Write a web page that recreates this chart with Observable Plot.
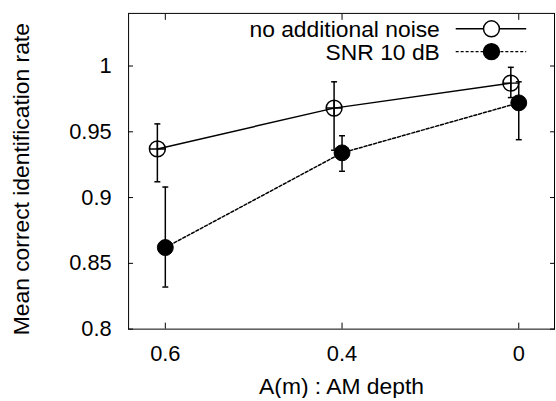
<!DOCTYPE html>
<html>
<head>
<meta charset="utf-8">
<script src="https://cdn.jsdelivr.net/npm/d3@7"></script>
<script src="https://cdn.jsdelivr.net/npm/@observablehq/plot@0.6"></script>
<style>
  html, body { margin: 0; padding: 0; background: #fff; overflow: hidden; }
  #chart { width: 556px; height: 401px; overflow: hidden; }
</style>
</head>
<body>
<div id="chart"></div>
<script>
// ---- data ----
const xCats = ["0.6", "0.4", "0"];
const seriesNames = ["no additional noise", "SNR 10 dB"];
const noNoiseMean = [0.937, 0.968, 0.987];
const noNoiseLow  = [0.912, 0.936, 0.976];
const noNoiseHigh = [0.956, 0.988, 0.999];
const snrMean = [0.862, 0.934, 0.972];
const snrLow  = [0.832, 0.920, 0.944];
const snrHigh = [0.908, 0.947, 0.988];
const yTicks = [0.8, 0.85, 0.9, 0.95, 1];
const yTickLabels = ["0.8", "0.85", "0.9", "0.95", "1"];
const xLabel = "A(m) : AM depth";
const yLabel = "Mean correct identification rate";

const noNoise = xCats.map((x, i) => ({x, y: noNoiseMean[i], lo: noNoiseLow[i], hi: noNoiseHigh[i]}));
const snr = xCats.map((x, i) => ({x, y: snrMean[i], lo: snrLow[i], hi: snrHigh[i]}));

// custom symbols
const circlePlus = {
  draw(ctx, size) {
    const r = Math.sqrt(size / Math.PI);
    ctx.moveTo(r, 0); ctx.arc(0, 0, r, 0, 2 * Math.PI);
    ctx.moveTo(-r, 0); ctx.lineTo(r, 0);
    ctx.moveTo(0, -r); ctx.lineTo(0, r);
  }
};
const hCap = {
  draw(ctx, size) {
    const r = Math.sqrt(size / Math.PI);
    ctx.moveTo(-r, 0); ctx.lineTo(r, 0);
  }
};

const FONT = "Liberation Sans, Arial, Helvetica, sans-serif";
const OFF = -8; // horizontal offset of the "no additional noise" series

function legend(index, scales, values, dims) {
  const g = d3.create("svg:g").attr("font-family", FONT).attr("font-size", 23);
  const right = dims.width - dims.marginRight;
  const rows = [
    {name: seriesNames[0], dash: null, fill: "none"},
    {name: seriesNames[1], dash: "3,2", fill: "black"}
  ];
  rows.forEach((r, i) => {
    const y = dims.marginTop + 16 + i * 23;
    g.append("text").attr("x", right - 115).attr("y", y).attr("dy", "0.35em")
      .attr("text-anchor", "end").attr("fill", "black").text(r.name);
    g.append("line").attr("x1", right - 99).attr("x2", right - 28).attr("y1", y).attr("y2", y)
      .attr("stroke", "black").attr("stroke-width", 1.5).attr("stroke-dasharray", r.dash);
    g.append("circle").attr("cx", right - 63).attr("cy", y).attr("r", 8)
      .attr("fill", r.fill === "none" ? "white" : "black").attr("stroke", "black").attr("stroke-width", 1.5);
  });
  return g.node();
}

const chart = Plot.plot({
  width: 560,
  height: 401,
  marginLeft: 129,
  marginRight: 2,
  marginTop: 13,
  marginBottom: 70,
  style: {fontFamily: FONT, fontSize: "22px", color: "black", background: "white"},
  x: {type: "point", domain: xCats, padding: 0.2, axis: null},
  y: {domain: [0.8, 1.04], axis: null},
  marks: [
    Plot.frame({stroke: "black", strokeWidth: 1}),
    Plot.axisY({ticks: yTicks, tickFormat: (d) => yTickLabels[yTicks.indexOf(d)], tickSize: -5, tickPadding: 22, fontSize: 22, label: null}),
    Plot.axisY({anchor: "right", ticks: yTicks, tickFormat: () => "", tickSize: -5, label: null}),
    Plot.axisX({tickSize: -6, tickPadding: 22, fontSize: 22, label: null}),
    Plot.axisX({anchor: "top", tickFormat: () => "", tickSize: -6, label: null}),
    // no additional noise
    Plot.ruleX(noNoise, {x: "x", y1: "lo", y2: "hi", dx: OFF, stroke: "black", strokeWidth: 1.5}),
    Plot.dot(noNoise, {x: "x", y: "lo", dx: OFF, symbol: hCap, r: 3, stroke: "black", strokeWidth: 1.5}),
    Plot.dot(noNoise, {x: "x", y: "hi", dx: OFF, symbol: hCap, r: 3, stroke: "black", strokeWidth: 1.5}),
    Plot.line(noNoise, {x: "x", y: "y", dx: OFF, stroke: "black", strokeWidth: 1.5}),
    Plot.dot(noNoise, {x: "x", y: "y", dx: OFF, symbol: circlePlus, r: 8, fill: "none", stroke: "black", strokeWidth: 1.5}),
    // SNR 10 dB
    Plot.ruleX(snr, {x: "x", y1: "lo", y2: "hi", stroke: "black", strokeWidth: 1.5}),
    Plot.dot(snr, {x: "x", y: "lo", symbol: hCap, r: 3, stroke: "black", strokeWidth: 1.5}),
    Plot.dot(snr, {x: "x", y: "hi", symbol: hCap, r: 3, stroke: "black", strokeWidth: 1.5}),
    Plot.line(snr, {x: "x", y: "y", stroke: "black", strokeWidth: 1.5, strokeDasharray: "3,2"}),
    Plot.dot(snr, {x: "x", y: "y", r: 8, fill: "black", stroke: "black", strokeWidth: 1}),
    // axis titles
    Plot.text([xLabel], {frameAnchor: "bottom", text: (d) => d, textAnchor: "middle", lineAnchor: "middle", dy: 57.6, fontSize: 23, fill: "black"}),
    Plot.text([yLabel], {frameAnchor: "left", text: (d) => d, textAnchor: "middle", lineAnchor: "middle", rotate: -90, dx: -108, dy: 8, fontSize: 23, fill: "black"}),
    legend
  ]
});
document.getElementById("chart").appendChild(chart);
</script>
</body>
</html>
